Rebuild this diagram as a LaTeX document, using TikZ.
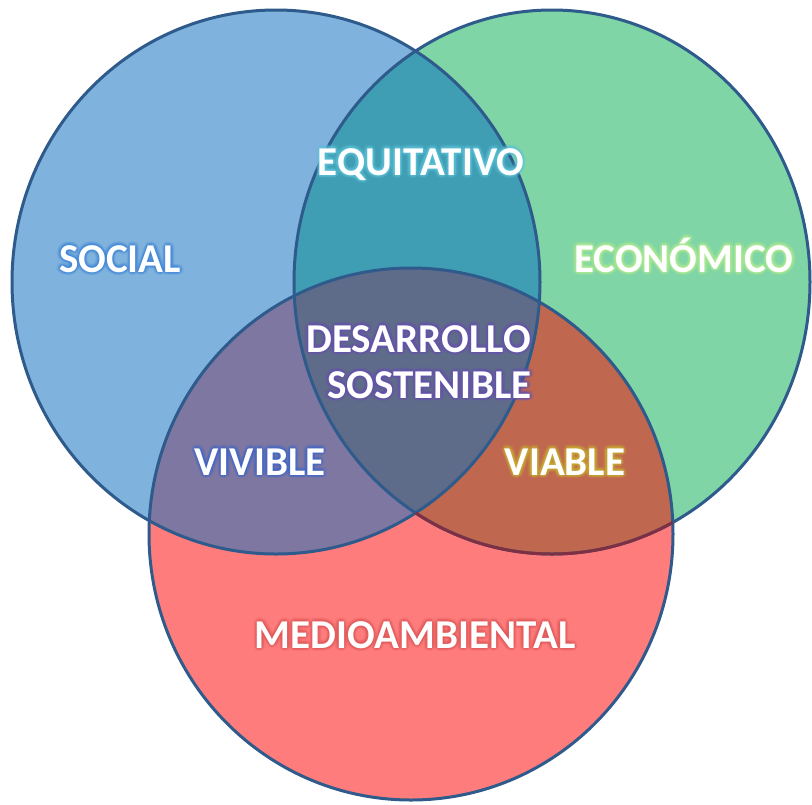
\documentclass[tikz,border=0pt]{standalone}
\usepackage{fontspec}
\setmainfont{Carlito}
\usetikzlibrary{calc}
\definecolor{cB}{HTML}{7FB2DD}
\definecolor{cG}{HTML}{80D5A6}
\definecolor{cR}{HTML}{FF7C7C}
\definecolor{cBG}{HTML}{3F9EB4}
\definecolor{cBR}{HTML}{7D77A1}
\definecolor{cGR}{HTML}{C0684F}
\definecolor{cBGR}{HTML}{5E6B89}
\definecolor{edgeC}{HTML}{2E5B8C}
\definecolor{edgeM}{HTML}{7E3042}
\definecolor{gSoc}{HTML}{3F86D8}
\definecolor{gEqu}{HTML}{5CC2D8}
\definecolor{gEco}{HTML}{B0EC90}
\definecolor{gDes}{HTML}{6650B0}
\definecolor{gViv}{HTML}{4066C8}
\definecolor{gVia}{HTML}{C8B030}
\definecolor{gMed}{HTML}{E05858}
\newcommand{\pathB}{(276,282) ellipse [x radius=264pt, y radius=272pt]}
\newcommand{\pathG}{(552,282) ellipse [x radius=258pt, y radius=272pt]}
\newcommand{\pathR}{(411,534) ellipse [x radius=262pt, y radius=266pt]}
\tikzset{
  lbl/.style={inner sep=0pt, text=white, font=\fontsize{41}{47}\bfseries\selectfont},
  rim/.style={draw=edgeC, line width=3pt}
}
\newcommand{\glowlbl}[5]{% name, position, anchor, glow colour, text
  \foreach \r/\o in {3.5/0.16, 2/0.28} {
    \foreach \a in {0,45,...,315} {
      \node[lbl, anchor=#3, text=#4, opacity=\o] at ($(#2)+(\a:\r)$) {#5};
    }
  }
  \node[lbl, anchor=#3] (#1) at (#2) {#5};
}
\begin{document}
\begin{tikzpicture}[x=1pt,y=-1pt]
\useasboundingbox (0,0) rectangle (812,804);
\fill[white] (0,0) rectangle (812,804);
% base fills
\fill[cB] \pathB;
\fill[cG] \pathG;
\fill[cR] \pathR;
% pairwise overlaps
\begin{scope}
  \clip \pathB;
  \fill[cBG] \pathG;
  \fill[cBR] \pathR;
\end{scope}
\begin{scope}
  \clip \pathG;
  \fill[cGR] \pathR;
  \clip \pathB;
  \fill[cBGR] \pathR;
\end{scope}
% rims
\draw[rim] \pathB;
\draw[rim] \pathG;
\draw[rim] \pathR;
\begin{scope}[even odd rule]
  \clip \pathR;
  \clip (-10,-10) rectangle (830,830) \pathB;
  \draw[draw=edgeM, line width=3pt] \pathG;
\end{scope}
% labels
\coordinate (pSoc) at (120,272);
\coordinate (pEqu) at (421,175);
\coordinate (pEco) at (684,272);
\coordinate (pDes) at (531,352);
\coordinate (pSos) at (532,398);
\coordinate (pViv) at (260,475);
\coordinate (pVia) at (565,475);
\coordinate (pMed) at (415,648);
\glowlbl{social}{pSoc}{base}{gSoc}{SOCIAL}
\glowlbl{equitativo}{pEqu}{base}{gEqu}{EQUITATIVO}
\glowlbl{economico}{pEco}{base}{gEco}{ECONÓMICO}
\glowlbl{desarrollo}{pDes}{base east}{gDes}{DESARROLLO}
\glowlbl{sostenible}{pSos}{base east}{gDes}{SOSTENIBLE}
\glowlbl{vivible}{pViv}{base}{gViv}{VIVIBLE}
\glowlbl{viable}{pVia}{base}{gVia}{VIABLE}
\glowlbl{medio}{pMed}{base}{gMed}{MEDIOAMBIENTAL}
\end{tikzpicture}
\end{document}
